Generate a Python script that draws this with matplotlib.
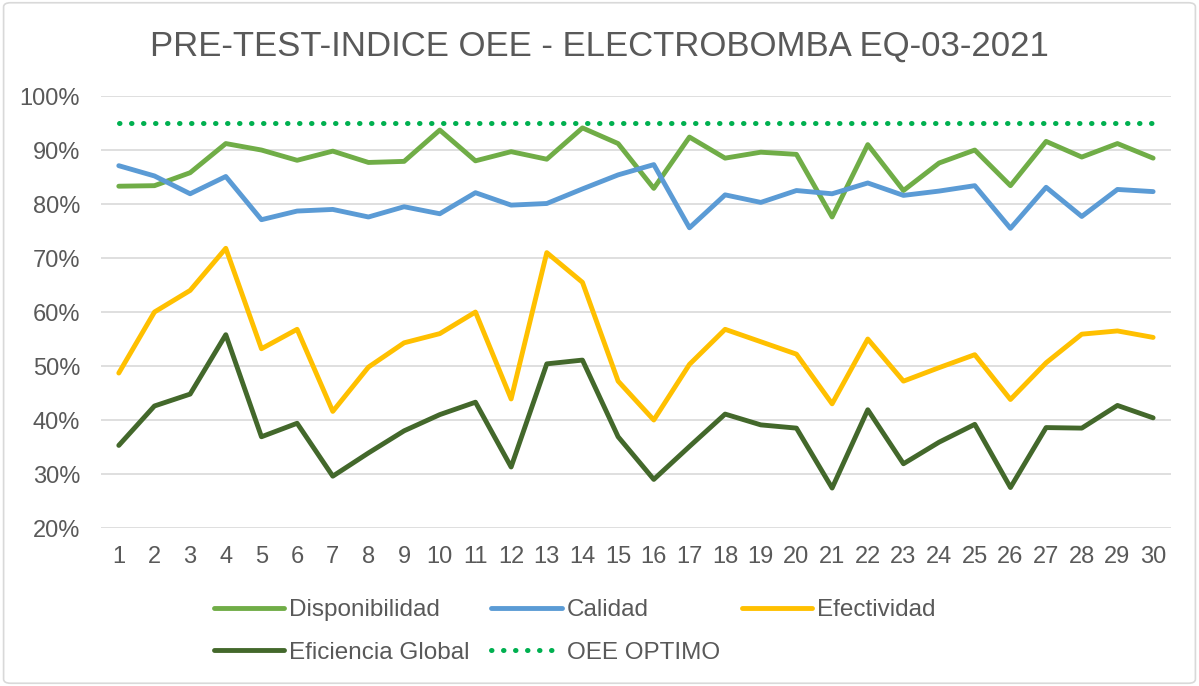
import numpy as np
import matplotlib.pyplot as plt
import matplotlib.ticker as mtick
from matplotlib.patches import FancyBboxPatch

plt.rcParams['font.family'] = ['Liberation Sans', 'DejaVu Sans']

# Datos (fracciones)
dias = list(range(1, 31))
disponibilidad = [0.833, 0.834, 0.858, 0.912, 0.900, 0.881, 0.898, 0.877, 0.879, 0.937,
                  0.880, 0.897, 0.883, 0.941, 0.912, 0.829, 0.924, 0.885, 0.896, 0.892,
                  0.776, 0.910, 0.825, 0.876, 0.900, 0.834, 0.916, 0.887, 0.912, 0.885]
calidad = [0.871, 0.852, 0.819, 0.851, 0.771, 0.787, 0.790, 0.776, 0.795, 0.782,
           0.821, 0.798, 0.801, 0.828, 0.854, 0.873, 0.756, 0.817, 0.803, 0.825,
           0.819, 0.839, 0.816, 0.824, 0.834, 0.755, 0.831, 0.777, 0.827, 0.823]
efectividad = [0.487, 0.600, 0.640, 0.718, 0.532, 0.568, 0.416, 0.498, 0.543, 0.560,
               0.600, 0.439, 0.710, 0.655, 0.472, 0.400, 0.503, 0.568, 0.545, 0.522,
               0.430, 0.550, 0.472, 0.497, 0.521, 0.438, 0.506, 0.559, 0.565, 0.553]
eficiencia_global = [0.353, 0.426, 0.448, 0.558, 0.369, 0.394, 0.296, 0.339, 0.380, 0.410,
                     0.433, 0.313, 0.504, 0.511, 0.369, 0.290, 0.351, 0.411, 0.391, 0.385,
                     0.274, 0.419, 0.319, 0.359, 0.392, 0.275, 0.386, 0.385, 0.427, 0.404]
oee_optimo = [0.95] * 30

GRIS = '#595959'

fig = plt.figure(figsize=(11.99, 6.86), dpi=100)
ax = fig.add_axes([0.0842, 0.2303, 0.8924, 0.6297])

# Borde del area del grafico
fig.patches.append(FancyBboxPatch((0.003, 0.004), 0.994, 0.992, boxstyle='round,pad=0,rounding_size=0.006',
                                  transform=fig.transFigure, facecolor='none', edgecolor='#D9D9D9', lw=1.2))

lw = 3.5
estilo = dict(lw=lw, solid_capstyle='round', solid_joinstyle='round')
l_disp, = ax.plot(dias, disponibilidad, color='#70AD47', label='Disponibilidad', **estilo)
l_cal, = ax.plot(dias, calidad, color='#5B9BD5', label='Calidad', **estilo)
l_efe, = ax.plot(dias, efectividad, color='#FFC000', label='Efectividad', **estilo)
l_efg, = ax.plot(dias, eficiencia_global, color='#43682B', label='Eficiencia Global', **estilo)
l_oee, = ax.plot(dias, oee_optimo, color='#00B050', lw=3.6, linestyle=(0, (0.1, 2.3)),
                 dash_capstyle='round', label='OEE OPTIMO')

ax.set_xlim(0.5, 30.5)
ax.set_ylim(0.2, 1.0)
ax.set_xticks(dias)
ax.set_yticks(np.arange(0.2, 1.01, 0.1))
ax.yaxis.set_major_formatter(mtick.PercentFormatter(1.0, decimals=0))
ax.grid(axis='y', color='#D9D9D9', lw=1.2)
ax.set_axisbelow(True)
for s in ax.spines.values():
    s.set_visible(False)
ax.tick_params(axis='both', length=0, colors=GRIS, labelsize=17)
ax.tick_params(axis='x', pad=13)
ax.tick_params(axis='y', pad=15)

fig.text(0.5, 0.932, 'PRE-TEST-INDICE OEE - ELECTROBOMBA EQ-03-2021', ha='center', va='center',
         fontsize=25, color=GRIS)

# orden por filas como en Excel
handles = [l_disp, l_efg, l_cal, l_oee, l_efe]
leg = fig.legend(handles, [h.get_label() for h in handles], ncol=3, loc='center left',
                 bbox_to_anchor=(0.160, 0.0794), frameon=False, fontsize=17.5,
                 handlelength=2.9, handletextpad=0.2, columnspacing=0.9, labelspacing=0.84)
for t in leg.get_texts():
    t.set_color(GRIS)

fig.savefig('out.png', dpi=100)
